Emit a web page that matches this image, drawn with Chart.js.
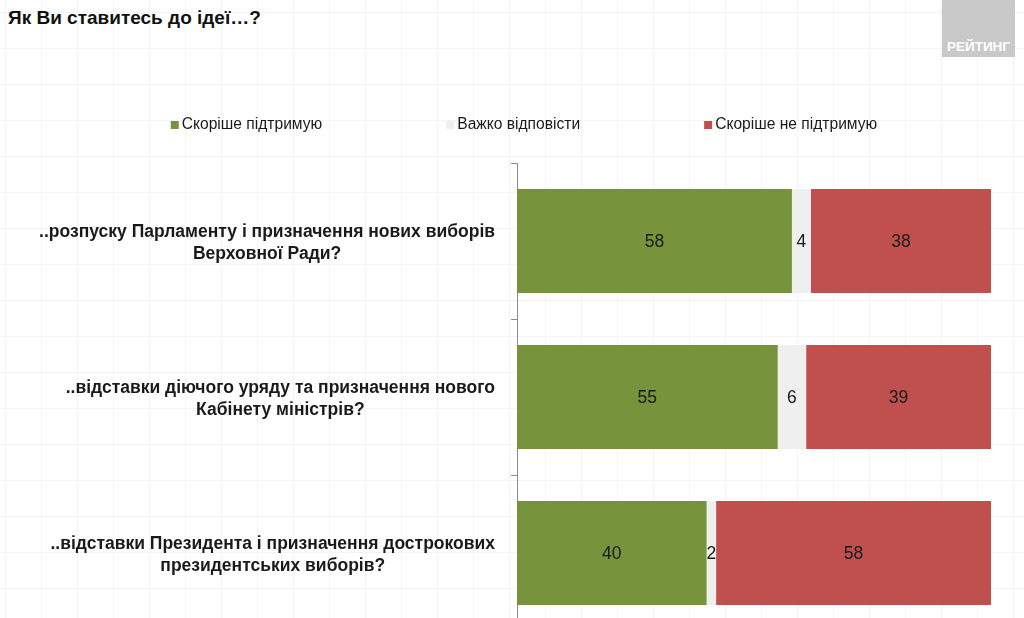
<!DOCTYPE html>
<html lang="uk">
<head>
<meta charset="utf-8">
<title>Як Ви ставитесь до ідеї…?</title>
<script src="https://cdn.jsdelivr.net/npm/chart.js@4.4.1/dist/chart.umd.min.js"></script>
<style>
  html, body { margin: 0; padding: 0; width: 1024px; height: 618px; overflow: hidden; }
  body {
    position: relative;
    background-color: #fff;
    background-image: linear-gradient(to right, #f4f4f4 1px, transparent 1px),
                      linear-gradient(to bottom, #f4f4f4 1px, transparent 1px);
    background-size: 36px 36px;
    background-position: 5px 12px;
    font-family: "Liberation Sans", Arial, sans-serif;
  }
  #titulo { position: absolute; left: 8px; top: 7px; font-size: 19px; font-weight: bold; color: #111; }
  #logo {
    position: absolute; left: 942px; top: 0; width: 73px; height: 57px; box-sizing: border-box;
    background: #c9c9c9; color: #fff; font-weight: bold; font-size: 13.5px;
    display: flex; align-items: flex-end; justify-content: center; padding-bottom: 3px;
  }
  #grafico { position: absolute; left: 0; top: 0; }
</style>
</head>
<body>
<div id="titulo">Як Ви ставитесь до ідеї…?</div>
<div id="logo">РЕЙТИНГ</div>
<canvas id="grafico" width="1024" height="640"></canvas>
<script>
// preguntas (dos lineas cada una)
const preguntas = [
    ["..розпуску Парламенту і призначення нових виборів", "Верховної Ради?"],
    ["..відставки діючого уряду та призначення нового", "Кабінету міністрів?"],
    ["..відставки Президента і призначення дострокових", "президентських виборів?"]
];
const nombresSeries = ["Скоріше підтримую", "Важко відповісти", "Скоріше не підтримую"];
const apoyo = [58, 55, 40];
const dificil = [4, 6, 2];
const noApoyo = [38, 39, 58];
const colores = ['#77933c', '#efefef', '#c0504d'];

const FUENTE = '"Liberation Sans", Arial, sans-serif';

// leyenda dibujada a mano, los items van muy separados
const leyenda = {
    id: 'leyenda',
    afterDraw(chart) {
        const ctx = chart.ctx;
        const lado = 8, hueco = 3, separacion = 124;
        ctx.save();
        ctx.font = '15.6px ' + FUENTE;
        let items = chart.data.datasets.map(ds => ({
            texto: ds.label,
            color: ds.backgroundColor,
            ancho: lado + hueco + ctx.measureText(ds.label).width
        }));
        let total = items.reduce((s, it) => s + it.ancho, 0) + separacion * (items.length - 1);
        let x = 524 - total / 2;
        const y = 125;
        ctx.textAlign = 'left';
        ctx.textBaseline = 'middle';
        for (let it of items) {
            ctx.fillStyle = it.color;
            ctx.fillRect(x, y - lado / 2, lado, lado);
            ctx.fillStyle = '#1a1a1a';
            ctx.fillText(it.texto, x + lado + hueco, y);
            x += it.ancho + separacion;
        }
        ctx.restore();
    }
};

// etiquetas del eje Y: bloque alineado a la derecha, lineas centradas
const etiquetasEjeY = {
    id: 'etiquetasEjeY',
    afterDraw(chart) {
        const ctx = chart.ctx;
        const ejeY = chart.scales.y;
        const derecha = chart.chartArea.left - 22;
        ctx.save();
        ctx.font = 'bold 17.5px ' + FUENTE;
        ctx.fillStyle = '#1a1a1a';
        ctx.textAlign = 'center';
        ctx.textBaseline = 'middle';
        chart.data.labels.forEach((lineas, i) => {
            let ancho = Math.max(...lineas.map(l => ctx.measureText(l).width));
            let centroX = derecha - ancho / 2;
            let centroY = ejeY.getPixelForValue(i) + 2;
            lineas.forEach((linea, j) => {
                ctx.fillText(linea, centroX, centroY + (j - (lineas.length - 1) / 2) * 22);
            });
        });
        ctx.restore();
    }
};

// valores dentro de cada barra
const valores = {
    id: 'valores',
    afterDatasetsDraw(chart) {
        const ctx = chart.ctx;
        ctx.save();
        ctx.font = '17.5px ' + FUENTE;
        ctx.fillStyle = '#1a1a1a';
        ctx.textAlign = 'center';
        ctx.textBaseline = 'middle';
        chart.data.datasets.forEach((ds, i) => {
            chart.getDatasetMeta(i).data.forEach((barra, j) => {
                let p = barra.getCenterPoint();
                ctx.fillText(ds.data[j], p.x, p.y + 1);
            });
        });
        ctx.restore();
    }
};

const ctx = document.getElementById('grafico').getContext('2d');
const chart = new Chart(ctx, {
    type: 'bar',
    data: {
        labels: preguntas,
        datasets: [
            { label: nombresSeries[0], data: apoyo, backgroundColor: colores[0] },
            { label: nombresSeries[1], data: dificil, backgroundColor: colores[1] },
            { label: nombresSeries[2], data: noApoyo, backgroundColor: colores[2] }
        ]
    },
    options: {
        indexAxis: 'y',
        responsive: false,
        animation: false,
        layout: { padding: { top: 163, right: 33, bottom: 9, left: 0 } },
        datasets: { bar: { barPercentage: 0.667, categoryPercentage: 1 } },
        plugins: {
            legend: { display: false },
            tooltip: { enabled: false }
        },
        scales: {
            x: { stacked: true, min: 0, max: 100, display: false },
            y: {
                stacked: true,
                ticks: { display: false },
                grid: { drawOnChartArea: false, tickLength: 6, color: '#8c8c8c' },
                border: { color: '#8c8c8c' },
                afterFit(scale) { scale.width = 517; }
            }
        }
    },
    plugins: [leyenda, etiquetasEjeY, valores]
});
</script>
</body>
</html>
